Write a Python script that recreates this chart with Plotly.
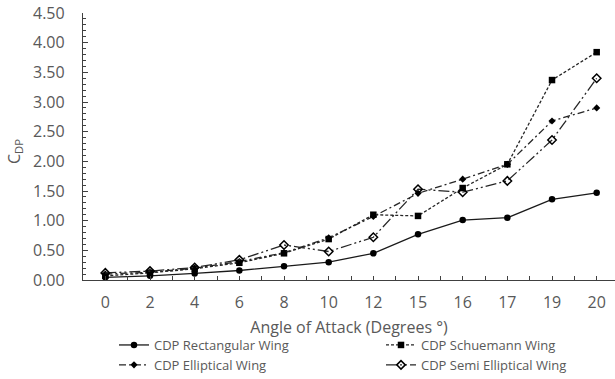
import plotly.graph_objects as go

angles = ["0", "2", "4", "6", "8", "10", "12", "15", "16", "17", "19", "20"]
rectangular = [0.045, 0.07, 0.11, 0.16, 0.23, 0.30, 0.45, 0.77, 1.01, 1.05, 1.36, 1.47]
schuemann = [0.07, 0.12, 0.19, 0.29, 0.45, 0.69, 1.10, 1.08, 1.55, 1.95, 3.37, 3.84]
elliptical = [0.10, 0.13, 0.20, 0.31, 0.46, 0.71, 1.07, 1.46, 1.70, 1.95, 2.68, 2.90]
semi_elliptical = [0.12, 0.15, 0.21, 0.34, 0.59, 0.48, 0.72, 1.53, 1.48, 1.67, 2.36, 3.40]

x_pos = list(range(len(angles)))
FONT = "Open Sans"
GREY = "#595959"

fig = go.Figure()
fig.add_trace(go.Scatter(x=x_pos, y=rectangular, name="CDP Rectangular Wing", mode="lines+markers",
                         legend="legend",
                         line=dict(color="#1a1a1a", width=1.3),
                         marker=dict(symbol="circle", size=6.5, color="black")))
fig.add_trace(go.Scatter(x=x_pos, y=schuemann, name="CDP Schuemann Wing", mode="lines+markers",
                         legend="legend2",
                         line=dict(color="#262626", width=1.3, dash="3px,2px"),
                         marker=dict(symbol="square", size=6.5, color="black")))
fig.add_trace(go.Scatter(x=x_pos, y=elliptical, name="CDP Elliptical Wing", mode="lines+markers",
                         legend="legend",
                         line=dict(color="#262626", width=1.3, dash="7px,3px,2px,3px"),
                         marker=dict(symbol="diamond", size=5.5, color="black")))
fig.add_trace(go.Scatter(x=x_pos, y=semi_elliptical, name="CDP Semi Elliptical Wing", mode="lines+markers",
                         legend="legend2",
                         line=dict(color="#262626", width=1.3, dash="11px,3px,2px,3px,2px,3px"),
                         marker=dict(symbol="diamond-open", size=6.5, color="black", line=dict(width=1.5))))

legend_common = dict(orientation="v", xref="container", yref="container",
                     xanchor="left", yanchor="top", tracegroupgap=0,
                     font=dict(size=13, color=GREY), itemwidth=30,
                     bgcolor="rgba(0,0,0,0)")

fig.update_layout(
    width=615, height=379,
    margin=dict(l=83, r=0, t=13, b=99, autoexpand=False),
    paper_bgcolor="white", plot_bgcolor="white",
    font=dict(family=FONT, color=GREY, size=15),
    showlegend=True,
    legend=dict(x=114 / 615, y=1 - 330 / 379, **legend_common),
    legend2=dict(x=381 / 615, y=1 - 330 / 379, **legend_common),
    annotations=[dict(text="C<sub>DP</sub>", textangle=-90, xref="paper", yref="paper",
                      x=(15 - 83) / 532, y=(280 - 152) / 267, xanchor="center", yanchor="middle",
                      showarrow=False, font=dict(size=16, color=GREY))],
)

fig.update_xaxes(
    range=[-0.5, 11.41], showgrid=False, zeroline=False, automargin=True,
    showline=True, linecolor="#404040", linewidth=1.3,
    tickmode="array", tickvals=x_pos, ticktext=angles,
    ticks="inside", ticklen=4, tickcolor="#404040", tickwidth=1,
    minor=dict(tickvals=[p - 0.5 for p in x_pos] + [x_pos[-1] + 0.5], ticks="inside", ticklen=4,
               tickcolor="#404040", tickwidth=1),
    tickfont=dict(size=16, color=GREY), ticklabelstandoff=8,
    title=dict(text="Angle of Attack (Degrees °)", font=dict(size=16, color=GREY), standoff=9),
)
fig.update_yaxes(
    range=[0, 4.5], showgrid=False, zeroline=False, automargin=True,
    showline=True, linecolor="#404040", linewidth=1.3,
    tickmode="linear", tick0=0, dtick=0.5, tickformat=".2f",
    ticks="inside", ticklen=5, tickcolor="#404040", tickwidth=1,
    minor=dict(dtick=0.1, ticks="inside", ticklen=3, tickcolor="#404040", tickwidth=1),
    tickfont=dict(size=16, color=GREY), ticklabelstandoff=14,
)

fig.write_html("out.html", config={"displayModeBar": False},
               post_script="document.body.style.margin='0';document.body.style.padding='0';")
